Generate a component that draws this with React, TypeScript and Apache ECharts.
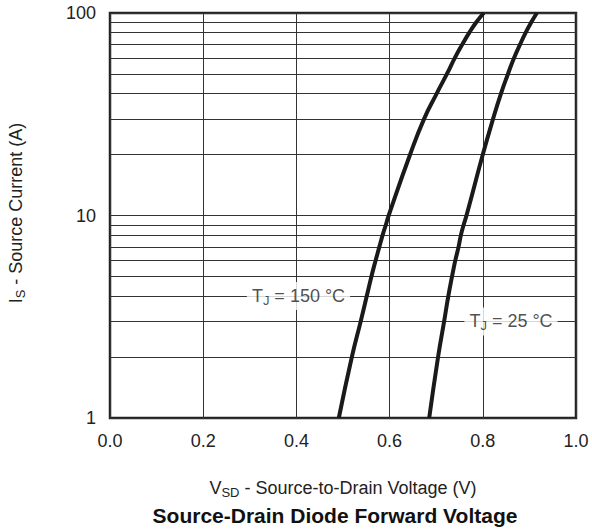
import React, { useEffect, useRef } from "react";
import * as echarts from "echarts";

// Source current I_S (A) sample points
const currents = [1, 2, 3, 4, 5, 6, 7, 8, 9, 10, 20, 30, 40, 50, 60, 70, 80, 90, 100];
// V_SD (V) at T_J = 150 °C
const vsd150 = [0.491, 0.519, 0.538, 0.551, 0.561, 0.57, 0.578, 0.585, 0.592, 0.598, 0.644, 0.674, 0.701, 0.723, 0.74, 0.756, 0.771, 0.786, 0.802];
// V_SD (V) at T_J = 25 °C
const vsd25 = [0.685, 0.704, 0.717, 0.726, 0.734, 0.741, 0.748, 0.753, 0.759, 0.765, 0.8, 0.822, 0.839, 0.854, 0.867, 0.88, 0.892, 0.904, 0.916];
// minor log grid lines
const minorGrid = [2, 3, 4, 5, 6, 7, 8, 9, 20, 30, 40, 50, 60, 70, 80, 90];
// label anchors [V, A]
const label150 = [0.4045, 4];
const label25 = [0.8605, 3];

const FONT = "'Liberation Sans', Arial, Helvetica, sans-serif";
const TXT = "#222";

export default function App() {
  const ref = useRef<HTMLDivElement>(null);
  useEffect(() => {
    document.body.style.margin = "0";
    if (!ref.current) return;
    const chart = echarts.init(ref.current, null, { renderer: "svg" });
    const richLabel = {
      t: { fontSize: 18, color: TXT, fontFamily: FONT },
      s: { fontSize: 13, color: TXT, fontFamily: FONT, padding: [9, 0, 0, 0] },
    };
    const gridColor = "#333";
    const labelSeries = (pos: number[], txt: string) => ({
      type: "scatter",
      data: [pos],
      symbolSize: 2,
      itemStyle: { color: "rgba(0,0,0,0)" },
      z: 10,
      silent: true,
      label: {
        show: true,
        position: "inside",
        formatter: txt,
        rich: richLabel,
        backgroundColor: "#fff",
        padding: [3, 5, 3, 5],
      },
    });
    chart.setOption({
      animation: false,
      grid: {
        left: 110,
        right: 16,
        top: 13,
        bottom: 111,
        show: true,
        borderColor: "#222",
        borderWidth: 2.5,
        backgroundColor: "transparent",
      },
      xAxis: {
        type: "value",
        min: 0,
        max: 1,
        interval: 0.2,
        axisLine: { show: false },
        axisTick: { show: false },
        axisLabel: {
          fontSize: 18,
          color: TXT,
          fontFamily: FONT,
          margin: 14,
          formatter: (v: number) => v.toFixed(1),
        },
        splitLine: { show: true, lineStyle: { color: gridColor, width: 1 } },
      },
      yAxis: {
        type: "log",
        logBase: 10,
        min: 1,
        max: 100,
        axisLine: { show: false },
        axisTick: { show: false },
        axisLabel: { fontSize: 18, color: TXT, fontFamily: FONT, margin: 14 },
        splitLine: { show: true, lineStyle: { color: gridColor, width: 1 } },
        minorTick: { show: false },
        minorSplitLine: { show: false },
      },
      series: [
        {
          type: "line",
          data: [],
          z: 1,
          silent: true,
          markLine: {
            silent: true,
            symbol: "none",
            label: { show: false },
            lineStyle: { color: gridColor, width: 1, type: "solid" },
            data: minorGrid.map((v) => ({ yAxis: v })),
          },
        },
        {
          type: "line",
          data: currents.map((c, i) => [vsd150[i], c]),
          smooth: 0.5,
          showSymbol: false,
          z: 5,
          lineStyle: { color: "#1a1a1a", width: 4 },
        },
        {
          type: "line",
          data: currents.map((c, i) => [vsd25[i], c]),
          smooth: 0.5,
          showSymbol: false,
          z: 5,
          lineStyle: { color: "#1a1a1a", width: 4 },
        },
        labelSeries(label150, "{t|T}{s|J}{t| = 150 °C}"),
        labelSeries(label25, "{t|T}{s|J}{t| = 25 °C}"),
      ],
      graphic: [
        {
          type: "text",
          x: 16,
          y: 213,
          rotation: Math.PI / 2,
          style: {
            text: "{a|I}{s|S}{a| - Source Current (A)}",
            align: "center",
            verticalAlign: "middle",
            rich: {
              a: { fontSize: 18, fill: TXT, fontFamily: FONT },
              s: { fontSize: 13, fill: TXT, fontFamily: FONT, padding: [9, 0, 0, 0] },
            },
          },
        },
        {
          type: "text",
          x: 343,
          y: 488,
          style: {
            text: "{a|V}{s|SD}{a| - Source-to-Drain Voltage (V)}",
            align: "center",
            verticalAlign: "middle",
            rich: {
              a: { fontSize: 18, fill: TXT, fontFamily: FONT },
              s: { fontSize: 13, fill: TXT, fontFamily: FONT, padding: [9, 0, 0, 0] },
            },
          },
        },
        {
          type: "text",
          x: 335,
          y: 515,
          style: {
            text: "Source-Drain Diode Forward Voltage",
            align: "center",
            verticalAlign: "middle",
            fontSize: 21,
            fontWeight: "bold",
            fontFamily: FONT,
            fill: "#111",
          },
        },
      ],
    });
    return () => chart.dispose();
  }, []);
  return <div ref={ref} style={{ width: 592, height: 529 }} />;
}
